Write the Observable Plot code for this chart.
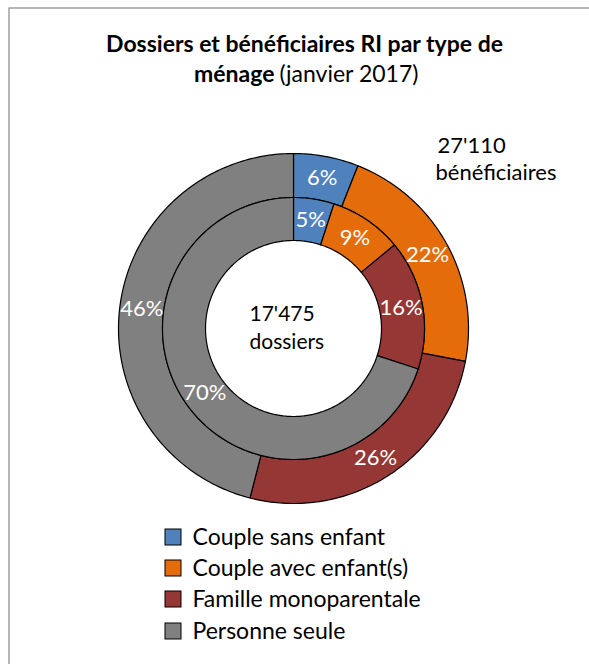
<!DOCTYPE html>
<html>
<head>
<meta charset="utf-8">
<script src="https://cdn.jsdelivr.net/npm/d3@7"></script>
<script src="https://cdn.jsdelivr.net/npm/@observablehq/plot@0.6"></script>
<style>
  html, body { margin: 0; padding: 0; background: #fff; }
</style>
</head>
<body>
<div id="chart"></div>
<script>
// ---- data ----
const categories = ["Couple sans enfant", "Couple avec enfant(s)", "Famille monoparentale", "Personne seule"];
const beneficiaires = [6, 22, 26, 46];   // outer ring (%)
const dossiers = [5, 9, 16, 70];         // inner ring (%)
const colors = ["#4F81BD", "#E46C0A", "#953735", "#808080"];
const totalBeneficiaires = "27'110";
const totalDossiers = "17'475";
const titleLine1 = "Dossiers et bénéficiaires RI par type de";
const titleBold2 = "ménage";
const titleRest2 = "(janvier 2017)";

// ---- layout ----
const W = 589, H = 664;
const cx = 293, cy = 328;
const rings = [
  {name: "beneficiaires", values: beneficiaires, r0: 131, r1: 175},
  {name: "dossiers", values: dossiers, r0: 88, r1: 131}
];
const FONT = "Lato, 'Open Sans', sans-serif";
const P = (px, py) => [px - cx, cy - py]; // page px -> data units

// build slice polygons and label positions
const slicePts = [];
const labels = [];
rings.forEach(ring => {
  const total = d3.sum(ring.values);
  let acc = 0;
  ring.values.forEach((v, i) => {
    const a0 = acc / total * 2 * Math.PI;
    acc += v;
    const a1 = acc / total * 2 * Math.PI;
    const key = ring.name + i;
    const n = Math.max(2, Math.ceil((a1 - a0) / (Math.PI / 180)));
    const pts = [];
    for (let k = 0; k <= n; k++) {
      const a = a0 + (a1 - a0) * k / n;
      pts.push({x: ring.r1 * Math.sin(a), y: ring.r1 * Math.cos(a)});
    }
    for (let k = n; k >= 0; k--) {
      const a = a0 + (a1 - a0) * k / n;
      pts.push({x: ring.r0 * Math.sin(a), y: ring.r0 * Math.cos(a)});
    }
    pts.push(pts[0]);
    pts.forEach(p => slicePts.push({...p, key, category: categories[i]}));
    const am = (a0 + a1) / 2, rm = (ring.r0 + ring.r1) / 2;
    labels.push({x: rm * Math.sin(am), y: rm * Math.cos(am), text: v + "%"});
  });
});

const legendRows = [537, 568, 599, 631];
const legend = categories.map((c, i) => {
  const [x1, y1] = P(165, legendRows[i] - 8);
  const [x2, y2] = P(181, legendRows[i] + 8);
  const [tx, ty] = P(192, legendRows[i]);
  return {category: c, x1, x2, y1, y2, tx, ty};
});

const frame = [
  {x: P(8.5, H)[0], y: P(8.5, H)[1]},
  {x: P(8.5, 7.5)[0], y: P(8.5, 7.5)[1]},
  {x: P(W, 7.5)[0], y: P(W, 7.5)[1]}
];

const t = (px, py, text, opts = {}) => {
  const [x, y] = P(px, py);
  return Plot.text([{x, y, text}], {x: "x", y: "y", text: "text", fontFamily: FONT, fill: "black", ...opts});
};

const chart = Plot.plot({
  width: W, height: H,
  margin: 0,
  x: {domain: [-cx, W - cx], range: [0, W], axis: null},
  y: {domain: [cy - H, cy], range: [H, 0], axis: null},
  color: {domain: categories, range: colors},
  style: {background: "white"},
  marks: [
    Plot.line(frame, {x: "x", y: "y", stroke: "#a0a0a0", strokeWidth: 1.5, strokeLinecap: "butt"}),
    Plot.line(slicePts, {x: "x", y: "y", z: "key", fill: "category", stroke: "black", strokeWidth: 1.2, curve: "linear"}),
    Plot.text(labels, {x: "x", y: "y", text: "text", fill: "white", fontSize: 22, fontFamily: FONT}),
    t(304, 44, titleLine1, {fontSize: 23, fontWeight: "bold"}),
    t(274, 74, titleBold2, {fontSize: 23, fontWeight: "bold", textAnchor: "end"}),
    t(279, 74, titleRest2, {fontSize: 23, textAnchor: "start"}),
    t(437, 145, totalBeneficiaires, {fontSize: 22, textAnchor: "start"}),
    t(435, 172, "bénéficiaires", {fontSize: 22, textAnchor: "start"}),
    t(249, 314, totalDossiers, {fontSize: 21, textAnchor: "start"}),
    t(249, 342, "dossiers", {fontSize: 21, textAnchor: "start"}),
    Plot.rect(legend, {x1: "x1", x2: "x2", y1: "y1", y2: "y2", fill: "category", stroke: "black", strokeWidth: 1}),
    Plot.text(legend, {x: "tx", y: "ty", text: "category", textAnchor: "start", fontSize: 23, fontFamily: FONT, fill: "black"})
  ]
});
document.getElementById("chart").appendChild(chart);
</script>
</body>
</html>
